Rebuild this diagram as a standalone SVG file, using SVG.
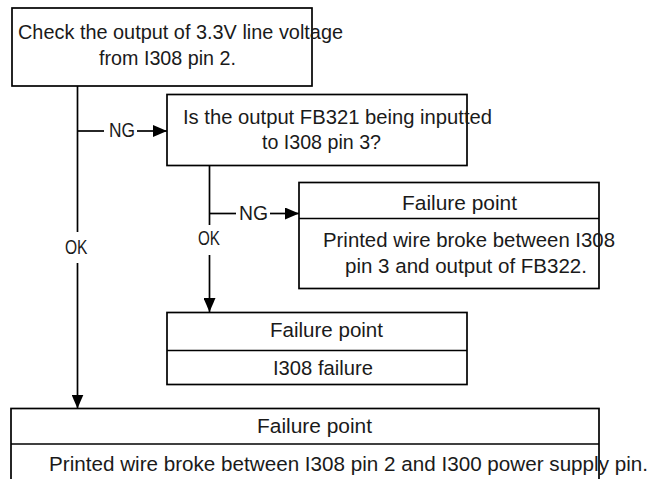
<svg xmlns="http://www.w3.org/2000/svg" width="649" height="479" viewBox="0 0 649 479">
<defs>
<style>
.box{fill:#fff;stroke:#000;stroke-width:1.7}
.div{stroke:#000;stroke-width:1.7}
.ln{stroke:#000;stroke-width:1.7;fill:none}
text{font-family:"Liberation Sans",Arial,sans-serif;font-size:20.5px;fill:#1a1a1a}
</style>
<marker id="arr" markerUnits="userSpaceOnUse" viewBox="0 0 14 12" refX="14" refY="6" markerWidth="14" markerHeight="12" orient="auto">
<path d="M0,0 L14,6 L0,12 Z" fill="#000"/>
</marker>
</defs>
<rect width="649" height="479" fill="#fff"/>
<g id="connectors">
<line class="ln" x1="77.5" y1="86" x2="77.5" y2="232"/>
<line class="ln" x1="77.5" y1="263" x2="77.5" y2="408.5" marker-end="url(#arr)"/>
<line class="ln" x1="77.5" y1="131" x2="104" y2="131"/>
<line class="ln" x1="137" y1="131" x2="167" y2="131" marker-end="url(#arr)"/>
<line class="ln" x1="209.5" y1="165.5" x2="209.5" y2="225"/>
<line class="ln" x1="209.5" y1="255" x2="209.5" y2="312" marker-end="url(#arr)"/>
<line class="ln" x1="209.5" y1="213.5" x2="236" y2="213.5"/>
<line class="ln" x1="270" y1="213.5" x2="299" y2="213.5" marker-end="url(#arr)"/>
<text x="109" y="137" textLength="26" lengthAdjust="spacingAndGlyphs">NG</text>
<text x="239" y="219.5" textLength="29" lengthAdjust="spacingAndGlyphs">NG</text>
<text x="198" y="244.5" textLength="22" lengthAdjust="spacingAndGlyphs">OK</text>
<text x="65" y="254" textLength="22.5" lengthAdjust="spacingAndGlyphs">OK</text>
</g>
<g id="n1">
<rect class="box" x="12" y="8" width="300" height="78"/>
<text x="18" y="39" textLength="325" lengthAdjust="spacingAndGlyphs">Check the output of 3.3V line voltage</text>
<text x="99" y="65" textLength="137" lengthAdjust="spacingAndGlyphs">from I308 pin 2.</text>
</g>
<g id="n2">
<rect class="box" x="167" y="94.5" width="300" height="71"/>
<text x="183" y="124" textLength="309" lengthAdjust="spacingAndGlyphs">Is the output FB321 being inputted</text>
<text x="262" y="149" textLength="119" lengthAdjust="spacingAndGlyphs">to I308 pin 3?</text>
</g>
<g id="n3">
<rect class="box" x="299" y="182.5" width="300" height="106"/>
<line class="div" x1="299" y1="218.5" x2="599" y2="218.5"/>
<text x="402" y="209.5" textLength="115" lengthAdjust="spacingAndGlyphs">Failure point</text>
<text x="323" y="247" textLength="292" lengthAdjust="spacingAndGlyphs">Printed wire broke between I308</text>
<text x="345" y="273" textLength="242" lengthAdjust="spacingAndGlyphs">pin 3 and output of FB322.</text>
</g>
<g id="n4">
<rect class="box" x="167" y="312.5" width="300" height="72"/>
<line class="div" x1="167" y1="350.5" x2="467" y2="350.5"/>
<text x="270" y="337" textLength="113" lengthAdjust="spacingAndGlyphs">Failure point</text>
<text x="273" y="374.5" textLength="100" lengthAdjust="spacingAndGlyphs">I308 failure</text>
</g>
<g id="n5">
<rect class="box" x="11" y="408.5" width="588" height="90"/>
<line class="div" x1="11" y1="444" x2="599" y2="444"/>
<text x="257" y="433" textLength="115" lengthAdjust="spacingAndGlyphs">Failure point</text>
<text x="49" y="471" textLength="599" lengthAdjust="spacingAndGlyphs">Printed wire broke between I308 pin 2 and I300 power supply pin.</text>
</g>
</svg>
